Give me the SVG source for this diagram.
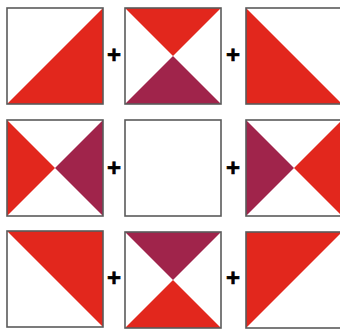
<svg xmlns="http://www.w3.org/2000/svg" width="340" height="329" viewBox="0 0 340 329">
<style>
.r{fill:#E2271D}
.m{fill:#A0244B}
.b{fill:none;stroke:#5a5a5a;stroke-width:1.6}
.p{font-family:"Liberation Sans",Arial,sans-serif;font-weight:bold;font-size:24px;fill:#000;text-anchor:middle;stroke:#000;stroke-width:0.6}
</style>
<rect width="340" height="329" fill="#fff"/>
<g id="r1s1">
<polygon class="r" points="103,8 103,104 7,104"/>
<rect class="b" x="7" y="8" width="96" height="96"/>
</g>
<g id="r1s2">
<polygon class="r" points="125,8 221,8 173,56"/>
<polygon class="m" points="125,104 221,104 173,56"/>
<rect class="b" x="125" y="8" width="96" height="96"/>
</g>
<g id="r1s3">
<polygon class="r" points="246,8 342,104 246,104"/>
<rect class="b" x="246" y="8" width="96" height="96"/>
</g>
<g id="r2s1">
<polygon class="r" points="7,120 55,168 7,216"/>
<polygon class="m" points="103,120 55,168 103,216"/>
<rect class="b" x="7" y="120" width="96" height="96"/>
</g>
<g id="r2s2">
<rect class="b" x="125" y="120" width="96" height="96"/>
</g>
<g id="r2s3">
<polygon class="m" points="246,120 294,168 246,216"/>
<polygon class="r" points="342,120 294,168 342,216"/>
<rect class="b" x="246" y="120" width="96" height="96"/>
</g>
<g id="r3s1">
<polygon class="r" points="7,231 103,231 103,327"/>
<rect class="b" x="7" y="231" width="96" height="96"/>
</g>
<g id="r3s2">
<polygon class="m" points="125,232 221,232 173,280"/>
<polygon class="r" points="125,328 221,328 173,280"/>
<rect class="b" x="125" y="232" width="96" height="96"/>
</g>
<g id="r3s3">
<polygon class="r" points="246,232 342,232 246,328"/>
<rect class="b" x="246" y="232" width="96" height="96"/>
</g>
<g id="plus">
<text class="p" x="114" y="63">+</text>
<text class="p" x="233" y="63">+</text>
<text class="p" x="114" y="176">+</text>
<text class="p" x="233" y="176">+</text>
<text class="p" x="114" y="286">+</text>
<text class="p" x="233" y="286">+</text>
</g>
</svg>
